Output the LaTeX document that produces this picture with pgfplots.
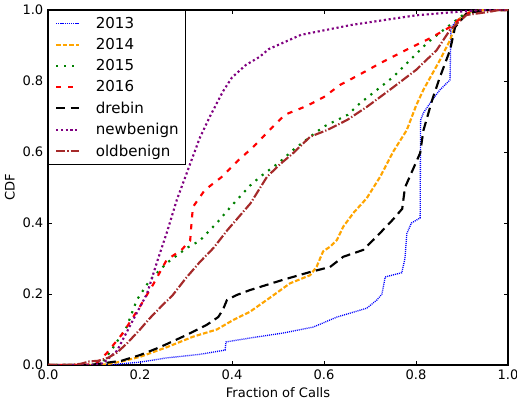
\documentclass[border=0pt]{standalone}
\usepackage{fontspec}
\setmainfont{DejaVu Sans}
\usepackage{pgfplots}
\pgfplotsset{compat=1.18}
\definecolor{mplorange}{RGB}{255,165,0}
\definecolor{mplgreen}{RGB}{0,128,0}
\definecolor{mplpurple}{RGB}{128,0,128}
\definecolor{mplbrown}{RGB}{165,42,42}
\begin{document}
\begin{tikzpicture}
\useasboundingbox (0,0) rectangle (387.75pt,302.25pt);
\begin{axis}[%
at={(36pt,28.5pt)}, anchor=south west,
scale only axis,
width=345pt, height=266.25pt,
xmin=0, xmax=1, ymin=0, ymax=1,
xtick={0,0.2,0.4,0.6,0.8,1.0},
ytick={0,0.2,0.4,0.6,0.8,1.0},
tick align=inside,
major tick length=3pt,
tick style={black, line width=0.6pt},
axis line style={line width=0.8pt},
/pgf/number format/assume math mode=true,
/pgf/number format/.cd, fixed, fixed zerofill, precision=1,
/pgfplots/.cd,
tick label style={font=\fontsize{9.8}{11}\selectfont},
xlabel={Fraction of Calls},
ylabel={CDF},
label style={font=\fontsize{9.8}{11}\selectfont},
xlabel style={yshift=1pt},
ylabel style={yshift=-1pt},
legend cell align=left,
legend style={at={(0,1)}, anchor=north west,
  font=\fontsize{11.3}{13}\selectfont, row sep=2.0pt, column sep=12pt,
  inner xsep=5pt, inner ysep=3pt, nodes={inner xsep=0pt}},
every axis plot/.append style={line width=1.6pt},
]
% 2013
\addplot[blue, line width=1pt, dash pattern=on 0.75pt off 0.75pt,
  legend image post style={blue, line width=1.2pt, dash pattern=on 1pt off 0.6pt}] coordinates {
(0,0) (0.13,0) (0.2,0.008) (0.258,0.02) (0.33,0.03) (0.385,0.042) (0.387,0.065)
(0.439,0.076) (0.511,0.09) (0.577,0.107) (0.628,0.135) (0.693,0.16) (0.715,0.183)
(0.726,0.2) (0.733,0.248) (0.769,0.26) (0.776,0.30) (0.78,0.37) (0.79,0.40)
(0.809,0.414) (0.81,0.69) (0.816,0.71) (0.835,0.746) (0.852,0.775) (0.874,0.803)
(0.876,0.95) (0.889,0.972) (0.917,0.995) (0.95,1.0) (1,1)};
\addlegendentry{2013}
% 2014
\addplot[mplorange, dash pattern=on 3.5pt off 1.5pt] coordinates {
(0,0) (0.10,0) (0.128,0.002) (0.16,0.01) (0.20,0.023) (0.258,0.05) (0.316,0.08)
(0.367,0.10) (0.403,0.127) (0.439,0.15) (0.461,0.17) (0.483,0.19) (0.526,0.23)
(0.57,0.253) (0.584,0.277) (0.598,0.32) (0.613,0.333) (0.628,0.352) (0.642,0.39)
(0.665,0.43) (0.693,0.47) (0.722,0.53) (0.75,0.60) (0.78,0.662) (0.80,0.73)
(0.816,0.775) (0.852,0.859) (0.874,0.915) (0.889,0.97) (0.917,0.995) (0.95,1.0) (1,1)};
\addlegendentry{2014}
% 2015
\addplot[mplgreen, dash pattern=on 1.6pt off 4.4pt] coordinates {
(0,0) (0.09,0) (0.12,0.01) (0.142,0.05) (0.171,0.107) (0.193,0.183) (0.222,0.24)
(0.258,0.287) (0.302,0.33) (0.33,0.35) (0.367,0.40) (0.40,0.45) (0.439,0.505)
(0.461,0.53) (0.504,0.572) (0.533,0.606) (0.57,0.643) (0.60,0.672) (0.652,0.705)
(0.678,0.737) (0.75,0.811) (0.824,0.907) (0.859,0.943) (0.902,0.986) (0.95,1.0) (1,1)};
\addlegendentry{2015}
% 2016
\addplot[red, dash pattern=on 4pt off 5pt] coordinates {
(0,0) (0.08,0) (0.106,0.005) (0.128,0.034) (0.163,0.09) (0.185,0.135) (0.20,0.165)
(0.23,0.23) (0.258,0.296) (0.29,0.324) (0.309,0.35) (0.312,0.40) (0.315,0.445)
(0.341,0.493) (0.378,0.53) (0.414,0.577) (0.446,0.614) (0.475,0.653) (0.515,0.705)
(0.563,0.73) (0.60,0.755) (0.635,0.789) (0.68,0.82) (0.722,0.85) (0.787,0.893)
(0.83,0.92) (0.874,0.952) (0.91,0.99) (0.95,1.0) (1,1)};
\addlegendentry{2016}
% drebin
\addplot[black, dash pattern=on 7pt off 4pt] coordinates {
(0,0) (0.09,0) (0.12,0.005) (0.16,0.012) (0.2,0.028) (0.243,0.05) (0.302,0.085)
(0.345,0.113) (0.37,0.135) (0.38,0.155) (0.389,0.183) (0.41,0.197) (0.439,0.211)
(0.511,0.24) (0.57,0.262) (0.613,0.276) (0.642,0.305) (0.685,0.324) (0.714,0.361)
(0.75,0.41) (0.77,0.44) (0.776,0.50) (0.793,0.55) (0.809,0.597) (0.816,0.66)
(0.835,0.746) (0.852,0.811) (0.874,0.887) (0.885,0.952) (0.91,0.99) (0.95,1.0) (1,1)};
\addlegendentry{drebin}
% newbenign
\addplot[mplpurple, dash pattern=on 1.6pt off 2pt] coordinates {
(0,0) (0.10,0) (0.12,0.005) (0.15,0.04) (0.185,0.127) (0.215,0.20) (0.237,0.29)
(0.26,0.38) (0.28,0.465) (0.31,0.57) (0.33,0.64) (0.352,0.70) (0.38,0.77)
(0.40,0.81) (0.43,0.845) (0.46,0.868) (0.48,0.89) (0.55,0.93) (0.66,0.958)
(0.80,0.985) (0.91,0.997) (0.95,1.0) (1,1)};
\addlegendentry{newbenign}
% oldbenign
\addplot[mplbrown, dash pattern=on 7pt off 1.5pt on 1pt off 1.5pt] coordinates {
(0,0) (0.04,0) (0.07,0.003) (0.09,0.01) (0.11,0.012) (0.13,0.02) (0.15,0.035)
(0.171,0.06) (0.20,0.10) (0.22,0.13) (0.25,0.17) (0.27,0.195) (0.30,0.245)
(0.33,0.29) (0.36,0.33) (0.39,0.38) (0.42,0.425) (0.44,0.455) (0.476,0.53)
(0.504,0.565) (0.533,0.597) (0.57,0.643) (0.607,0.662) (0.65,0.69) (0.693,0.727)
(0.743,0.775) (0.80,0.831) (0.845,0.887) (0.874,0.944) (0.91,0.986) (0.96,0.995) (0.98,1.0) (1,1)};
\addlegendentry{oldbenign}
\end{axis}
\end{tikzpicture}
\end{document}
